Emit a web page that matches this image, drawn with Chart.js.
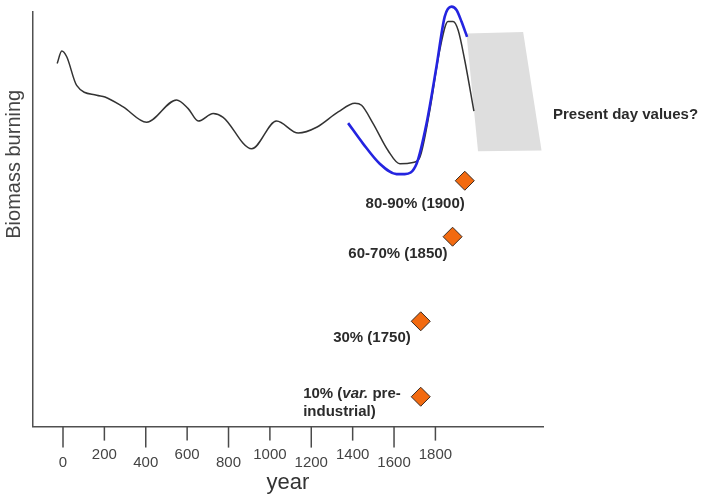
<!DOCTYPE html>
<html>
<head>
<meta charset="utf-8">
<script src="https://cdn.jsdelivr.net/npm/chart.js@4"></script>
<style>
  html, body { margin: 0; padding: 0; background: #fff; }
  #wrap { width: 711px; height: 497px; }
</style>
</head>
<body>
<div id="wrap"><canvas id="chart"></canvas></div>
<script>
// x ticks shown on the axis
const tickYears = [0, 200, 400, 600, 800, 1000, 1200, 1400, 1600, 1800];

// black reconstruction (arbitrary units)
const blackYears = [-28, -6, 18, 66, 163, 203, 291, 404, 549, 605, 654, 726, 774, 912, 1032, 1137, 1226, 1330, 1411, 1443, 1499, 1571, 1628, 1692, 1725, 1773, 1821, 1861, 1885, 1910, 1942, 1986];
const blackValues = [87.6, 90.6, 89.2, 82.3, 79.9, 79.5, 77.1, 73.4, 78.8, 76.7, 73.7, 75.5, 74.6, 67.0, 73.7, 70.8, 72.2, 75.9, 78.0, 77.5, 73.1, 66.6, 63.4, 63.7, 65.0, 76.3, 90.8, 97.7, 97.7, 95.6, 88.3, 76.1];

// blue reconstruction
const blueYears = [1378, 1451, 1531, 1612, 1652, 1709, 1757, 1805, 1845, 1878, 1902, 1926, 1953];
const blueValues = [73.2, 68.2, 63.4, 60.9, 60.9, 63.4, 73.1, 86.8, 98.9, 101.3, 100.5, 97.7, 94.0];

// grey "present day" band (corners)
const bandYears = [1950, 2224, 2313, 2006, 1950];
const bandValues = [94.8, 95.2, 66.6, 66.4, 94.8];

// diamonds with their labels
const diamondYears = [1942, 1883, 1729, 1729];
const diamondValues = [59.3, 45.8, 25.4, 7.2];
const diamondLabels = [
    [[['80-90% (1900)', '']]],
    [[['60-70% (1850)', '']]],
    [[['30% (1750)', '']]],
    [[['10% (', ''], ['var.', 'italic '], [' pre-', '']], [['industrial)', '']]],
];
const labelOffsets = [[0, 23], [-5, 17], [-10, 17], [-20, -3]];

const presentText = 'Present day values?';

const toPoints = (xs, ys) => xs.map((x, i) => ({ x: x, y: ys[i] }));
const FONT = '"Liberation Sans", Arial, Helvetica, sans-serif';
Chart.defaults.font.family = FONT;

const annotations = {
    id: 'annotations',
    afterDraw(chart) {
        const ctx = chart.ctx;
        const xs = chart.scales.x;
        const ys = chart.scales.y;

        // tick marks, long and short alternating
        ctx.save();
        ctx.strokeStyle = '#4a4a4a';
        ctx.lineWidth = 1.5;
        xs.ticks.forEach((t, i) => {
            const px = xs.getPixelForTick(i);
            ctx.beginPath();
            ctx.moveTo(px, xs.top);
            ctx.lineTo(px, xs.top + (i % 2 === 0 ? 21 : 14));
            ctx.stroke();
        });

        // diamond labels
        ctx.fillStyle = '#2b2b2b';
        ctx.textBaseline = 'middle';
        ctx.textAlign = 'left';
        const meta = chart.getDatasetMeta(0);
        meta.data.forEach((pt, i) => {
            const lines = diamondLabels[i];
            const widths = lines.map(segs => segs.reduce((w, s) => {
                ctx.font = s[1] + 'bold 15px ' + FONT;
                return w + ctx.measureText(s[0]).width;
            }, 0));
            const left = pt.x + labelOffsets[i][0] - widths[0];
            lines.forEach((segs, li) => {
                let x = left;
                const y = pt.y + labelOffsets[i][1] + li * 18;
                segs.forEach(s => {
                    ctx.font = s[1] + 'bold 15px ' + FONT;
                    ctx.fillText(s[0], x, y);
                    x += ctx.measureText(s[0]).width;
                });
            });
        });

        // "Present day values?"
        ctx.font = 'bold 15px ' + FONT;
        ctx.fillText(presentText, xs.right + 10, ys.getPixelForValue(75.3));
        ctx.restore();
    }
};

new Chart(document.getElementById('chart'), {
    type: 'scatter',
    data: {
        datasets: [
            {
                label: 'estimates',
                data: toPoints(diamondYears, diamondValues),
                pointStyle: 'rectRot',
                pointRadius: 9.5,
                backgroundColor: '#f26a10',
                borderColor: '#3a2a20',
                borderWidth: 1
            },
            {
                label: 'blue',
                data: toPoints(blueYears, blueValues),
                showLine: true,
                borderColor: '#2424e0',
                borderWidth: 2.6,
                pointRadius: 0,
                cubicInterpolationMode: 'monotone',
                clip: false
            },
            {
                label: 'black',
                data: toPoints(blackYears, blackValues),
                showLine: true,
                borderColor: '#333333',
                borderWidth: 1.5,
                pointRadius: 0,
                cubicInterpolationMode: 'monotone'
            },
            {
                label: 'present',
                data: toPoints(bandYears, bandValues),
                showLine: true,
                fill: 'shape',
                backgroundColor: '#dedede',
                borderWidth: 0,
                pointRadius: 0,
                tension: 0
            }
        ]
    },
    options: {
        responsive: true,
        maintainAspectRatio: false,
        animation: false,
        layout: { padding: { left: 1, right: 168, top: 12, bottom: 0 } },
        plugins: {
            legend: { display: false },
            tooltip: { enabled: false }
        },
        scales: {
            x: {
                type: 'linear',
                min: -145,
                max: 2320,
                afterBuildTicks: s => { s.ticks = tickYears.map(v => ({ value: v })); },
                border: { display: true, color: '#505050', width: 1.5 },
                grid: { drawOnChartArea: false, drawTicks: true, tickLength: 21, tickColor: 'transparent' },
                ticks: {
                    padding: 3,
                    maxRotation: 0,
                    autoSkip: false,
                    color: '#444',
                    font: { size: 15, lineHeight: '8px' },
                    callback: (v, i) => (i % 2 === 0 ? ['', String(v)] : String(v))
                },
                title: {
                    display: true,
                    text: 'year',
                    color: '#333',
                    font: { size: 22 },
                    padding: { top: 0, bottom: 1 }
                }
            },
            y: {
                min: 0,
                max: 100,
                border: { display: true, color: '#505050', width: 1.5 },
                grid: { display: false, drawTicks: false },
                ticks: { display: false },
                title: {
                    display: true,
                    text: 'Biomass burning              ',
                    align: 'end',
                    color: '#444',
                    font: { size: 20 },
                    padding: { top: 1, bottom: 7 }
                }
            }
        }
    },
    plugins: [annotations]
});
</script>
</body>
</html>
